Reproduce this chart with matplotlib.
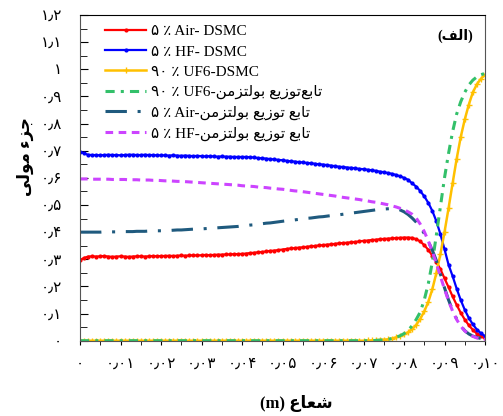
"""Mole fraction vs radius: DSMC results and Boltzmann distribution."""

import matplotlib
matplotlib.use('Agg')
import matplotlib.pyplot as plt
import numpy as np
from matplotlib.ticker import MultipleLocator

FAMILY = ['Liberation Serif', 'DejaVu Sans']
plt.rcParams['font.family'] = FAMILY

# Arabic presentation forms: isolated, final, initial, medial
FORMS = {
    'ا': ('\uFE8D', '\uFE8E', None, None),
    'ب': ('\uFE8F', '\uFE90', '\uFE91', '\uFE92'),
    'ت': ('\uFE95', '\uFE96', '\uFE97', '\uFE98'),
    'ج': ('\uFE9D', '\uFE9E', '\uFE9F', '\uFEA0'),
    'ز': ('\uFEAF', '\uFEB0', None, None),
    'ش': ('\uFEB5', '\uFEB6', '\uFEB7', '\uFEB8'),
    'ع': ('\uFEC9', '\uFECA', '\uFECB', '\uFECC'),
    'ف': ('\uFED1', '\uFED2', '\uFED3', '\uFED4'),
    'ل': ('\uFEDD', '\uFEDE', '\uFEDF', '\uFEE0'),
    'م': ('\uFEE1', '\uFEE2', '\uFEE3', '\uFEE4'),
    'ن': ('\uFEE5', '\uFEE6', '\uFEE7', '\uFEE8'),
    'و': ('\uFEED', '\uFEEE', None, None),
    'ی': ('\uFEEF', '\uFEF0', '\uFEF3', '\uFEF4'),
    'ء': ('\uFE80', None, None, None),
}


def shape(word):
    out = []
    for i, ch in enumerate(word):
        if ch not in FORMS:
            out.append(ch)
            continue
        iso, fin, ini, med = FORMS[ch]
        prev = word[i - 1] if i > 0 else ''
        nxt = word[i + 1] if i < len(word) - 1 else ''
        jp = fin is not None and prev in FORMS and FORMS[prev][2] is not None
        jn = ini is not None and nxt in FORMS and FORMS[nxt][1] is not None
        if jp and jn:
            out.append(med)
        elif jp:
            out.append(fin)
        elif jn:
            out.append(ini)
        else:
            out.append(iso)
    return ''.join(out).replace('\u200c', '')


def rtl(s):
    return shape(s)[::-1]


def to_fa(s):
    return s.translate(str.maketrans('0123456789.', '۰۱۲۳۴۵۶۷۸۹٫'))


# ---- data ----
r = np.linspace(0.0, 0.1, 101)

air_dsmc = [0.297, 0.305, 0.310,
            0.311, 0.310, 0.311, 0.312, 0.310, 0.309, 0.310, 0.311, 0.310, 0.309,
            0.310, 0.311, 0.311, 0.310, 0.311, 0.312, 0.311, 0.312,
            0.312, 0.313, 0.312, 0.313, 0.314, 0.313, 0.314, 0.315, 0.314, 0.315,
            0.316, 0.315, 0.316, 0.317, 0.317, 0.318, 0.318, 0.319, 0.319, 0.320,
            0.321, 0.323, 0.324, 0.326, 0.327, 0.329, 0.331, 0.332, 0.334, 0.336, 0.338, 0.340,
            0.341, 0.343, 0.344, 0.346, 0.348, 0.349, 0.351, 0.352, 0.354, 0.355, 0.357, 0.359,
            0.360, 0.361, 0.363, 0.364, 0.366, 0.368, 0.369, 0.371, 0.372, 0.374,
            0.375, 0.376, 0.377, 0.378, 0.379, 0.380, 0.380,
            0.379, 0.374, 0.366, 0.352, 0.335, 0.313, 0.290, 0.263, 0.230, 0.197,
            0.163, 0.132, 0.103, 0.078, 0.057, 0.040, 0.026, 0.016, 0.009]

hf_dsmc = [0.697, 0.690, 0.685,
           0.684, 0.684, 0.683, 0.684, 0.685, 0.684, 0.684, 0.683, 0.684, 0.685,
           0.685, 0.684, 0.684, 0.685, 0.684, 0.684, 0.683, 0.683,
           0.683, 0.682, 0.683, 0.682, 0.681, 0.682, 0.681, 0.680, 0.681, 0.680,
           0.679, 0.680, 0.679, 0.678, 0.679, 0.678, 0.678, 0.677, 0.677, 0.677,
           0.677, 0.676, 0.675, 0.673, 0.672, 0.671, 0.669, 0.668, 0.666, 0.665, 0.663, 0.661,
           0.660, 0.658, 0.657, 0.655, 0.654, 0.652, 0.650, 0.649, 0.647, 0.645, 0.643, 0.641,
           0.640, 0.638, 0.637, 0.635, 0.633, 0.632, 0.630, 0.628, 0.626, 0.623,
           0.621, 0.618, 0.615, 0.611, 0.606, 0.600, 0.593,
           0.580, 0.568, 0.552, 0.532, 0.508, 0.478, 0.440, 0.392, 0.337, 0.280,
           0.238, 0.192, 0.150, 0.114, 0.084, 0.060, 0.041, 0.027, 0.017]

uf6_dsmc = [0.0, 0.0, 0.0, 0.0, 0.0, 0.0, 0.0, 0.0, 0.0, 0.0,
            0.0, 0.0, 0.0, 0.0, 0.0, 0.0, 0.0, 0.0, 0.0, 0.0,
            0.0, 0.0, 0.0, 0.0, 0.0, 0.0, 0.0, 0.0, 0.0, 0.0,
            0.0, 0.0, 0.0, 0.0, 0.0, 0.0, 0.0, 0.0, 0.0, 0.0,
            0.0, 0.0, 0.0, 0.0, 0.0, 0.0, 0.0, 0.0, 0.0, 0.0,
            0.0, 0.0, 0.0, 0.0, 0.0, 0.0, 0.0, 0.0, 0.0, 0.0,
            0.0, 0.0, 0.0, 0.0, 0.0, 0.0, 0.0, 0.0, 0.0, 0.0,
            0.0, 0.001, 0.001, 0.002, 0.003, 0.004, 0.005, 0.008, 0.012, 0.017,
            0.023, 0.031, 0.042, 0.058, 0.080, 0.108, 0.143, 0.190, 0.250, 0.320,
            0.400, 0.488, 0.580, 0.670, 0.750, 0.815, 0.870, 0.915, 0.945, 0.965,
            0.980]

uf6_boltz = [0.0, 0.0, 0.0, 0.0, 0.0, 0.0, 0.0, 0.0, 0.0, 0.0,
             0.0, 0.0, 0.0, 0.0, 0.0, 0.0, 0.0, 0.0, 0.0, 0.0,
             0.0, 0.0, 0.0, 0.0, 0.0, 0.0, 0.0, 0.0, 0.0, 0.0,
             0.0, 0.0, 0.0, 0.0, 0.0, 0.0, 0.0, 0.0, 0.0, 0.0,
             0.0, 0.0, 0.0, 0.0, 0.0, 0.0, 0.0, 0.0, 0.0, 0.0,
             0.0, 0.0, 0.0, 0.0, 0.0, 0.0, 0.0, 0.0, 0.0, 0.0,
             0.0, 0.0, 0.0, 0.0, 0.0, 0.0, 0.0, 0.0, 0.0, 0.0,
             0.0, 0.0, 0.0, 0.001, 0.002, 0.003, 0.005, 0.008, 0.012, 0.018,
             0.026, 0.038, 0.055, 0.078, 0.105, 0.150, 0.210, 0.290, 0.390, 0.495,
             0.600, 0.690, 0.770, 0.835, 0.880, 0.915, 0.942, 0.960, 0.972, 0.980,
             0.985]

air_boltz = [0.400, 0.400, 0.400, 0.400, 0.400, 0.400, 0.401, 0.401, 0.401, 0.401, 0.401,
             0.402, 0.402, 0.402, 0.403, 0.403, 0.403, 0.404, 0.404, 0.405, 0.405,
             0.406, 0.406, 0.407, 0.408, 0.408, 0.409, 0.410, 0.411, 0.411, 0.412,
             0.413, 0.414, 0.415, 0.416, 0.417, 0.418, 0.419, 0.420, 0.421, 0.423,
             0.424, 0.426, 0.427, 0.429, 0.431, 0.433, 0.434, 0.436, 0.438, 0.440,
             0.442, 0.444, 0.445, 0.447, 0.449, 0.451, 0.452, 0.454, 0.456, 0.457,
             0.459, 0.461, 0.463, 0.464, 0.466, 0.468, 0.470, 0.472, 0.474, 0.476,
             0.478, 0.480, 0.482, 0.484, 0.485, 0.486, 0.487, 0.486, 0.482, 0.475,
             0.465, 0.452, 0.437, 0.418, 0.395, 0.366, 0.333, 0.295, 0.245, 0.195,
             0.150, 0.112, 0.080, 0.055, 0.037, 0.025, 0.017, 0.012, 0.008, 0.006]

hf_boltz = [0.596, 0.596, 0.596, 0.595, 0.595, 0.595, 0.595, 0.595, 0.594, 0.594, 0.594,
            0.594, 0.593, 0.593, 0.593, 0.592, 0.592, 0.592, 0.591, 0.591, 0.590,
            0.589, 0.589, 0.588, 0.587, 0.587, 0.586, 0.585, 0.584, 0.583, 0.582,
            0.581, 0.580, 0.579, 0.578, 0.577, 0.576, 0.575, 0.574, 0.573, 0.571,
            0.570, 0.569, 0.568, 0.566, 0.565, 0.564, 0.562, 0.561, 0.559, 0.558,
            0.556, 0.554, 0.552, 0.551, 0.549, 0.547, 0.545, 0.543, 0.541, 0.539,
            0.537, 0.535, 0.533, 0.530, 0.528, 0.526, 0.524, 0.522, 0.520, 0.517,
            0.515, 0.512, 0.510, 0.507, 0.504, 0.501, 0.497, 0.493, 0.488, 0.483,
            0.475, 0.466, 0.452, 0.430, 0.402, 0.368, 0.328, 0.284, 0.237, 0.190,
            0.147, 0.109, 0.078, 0.054, 0.036, 0.024, 0.016, 0.010, 0.007, 0.005]

x_ticks = [0, 0.01, 0.02, 0.03, 0.04, 0.05, 0.06, 0.07, 0.08, 0.09, 0.1]
x_tick_labels = ['0', '0.01', '0.02', '0.03', '0.04', '0.05', '0.06', '0.07', '0.08', '0.09', '0.10']
y_ticks = [0, 0.1, 0.2, 0.3, 0.4, 0.5, 0.6, 0.7, 0.8, 0.9, 1.0, 1.1, 1.2]
y_tick_labels = ['0', '0.1', '0.2', '0.3', '0.4', '0.5', '0.6', '0.7', '0.8', '0.9', '1', '1.1', '1.2']

boltz = 'تابع توزیع بولتزمن'
labels = [
    to_fa('5') + ' ٪ Air- DSMC',
    to_fa('5') + ' ٪ HF- DSMC',
    to_fa('90') + ' ٪ UF6-DSMC',
    to_fa('90') + ' ٪ UF6-' + rtl('تابع\u200cتوزیع بولتزمن'),
    to_fa('5') + ' ٪ Air-' + rtl(boltz),
    to_fa('5') + ' ٪ HF-' + rtl(boltz),
]

fig = plt.figure(figsize=(5.03, 4.16), dpi=100)
ax = fig.add_axes([80 / 503, 1 - 340.7 / 416, 405 / 503, 325.7 / 416])

ax.plot(r, air_dsmc, color='#ff0000', lw=1.6, marker='.', ms=4, label=labels[0])
ax.plot(r, hf_dsmc, color='#0000ff', lw=1.6, marker='.', ms=4, label=labels[1])
ax.plot(r, uf6_dsmc, color='#ffc000', lw=1.8, marker='+', ms=4, mew=1, label=labels[2])
ax.plot(r, uf6_boltz, color='#33c06a', lw=2.2, ls=(0, (3, 2, 1, 2)), label=labels[3])
ax.plot(r, air_boltz, color='#1f5a7e', lw=2.2, ls=(0, (7, 3.5, 1, 3.5)), label=labels[4])
ax.plot(r, hf_boltz, color='#cc44ff', lw=2.2, ls=(0, (2.5, 1.8)), label=labels[5])

ax.set_xlim(0, 0.1)
ax.set_ylim(0, 1.2)
ax.set_xticks(x_ticks)
ax.set_xticklabels([to_fa(s) for s in x_tick_labels])
ax.set_yticks(y_ticks)
ax.set_yticklabels([to_fa(s) for s in y_tick_labels])
ax.xaxis.set_minor_locator(MultipleLocator(0.005))
ax.yaxis.set_minor_locator(MultipleLocator(0.05))
ax.tick_params(axis='x', which='both', direction='out', length=3, pad=9, labelsize=11)
ax.tick_params(axis='y', which='major', direction='in', length=6, pad=13, labelsize=11)
ax.tick_params(axis='y', which='minor', direction='in', length=5)
for s in ax.spines.values():
    s.set_color('#555555')
ax.spines['top'].set_color('black')

ax.legend(loc='upper left', bbox_to_anchor=(0.062, 0.97), frameon=False,
          prop={'family': FAMILY, 'size': 11}, handlelength=2.7,
          handletextpad=0.3, labelspacing=0.42, borderpad=0, borderaxespad=0)

fig.text(455 / 503, 1 - 36 / 416, '(' + rtl('الف') + ')', fontsize=10,
         fontweight='bold', ha='center', va='center')
fig.text(25 / 503, 1 - 157 / 416, rtl('جزء مولی'), rotation=90, fontsize=12,
         fontweight='bold', ha='center', va='center')
fig.text(296 / 503, 1 - 403 / 416, '(m) ' + rtl('شعاع'), fontsize=12,
         fontweight='bold', ha='center', va='center')

fig.savefig('out.png', dpi=100)
